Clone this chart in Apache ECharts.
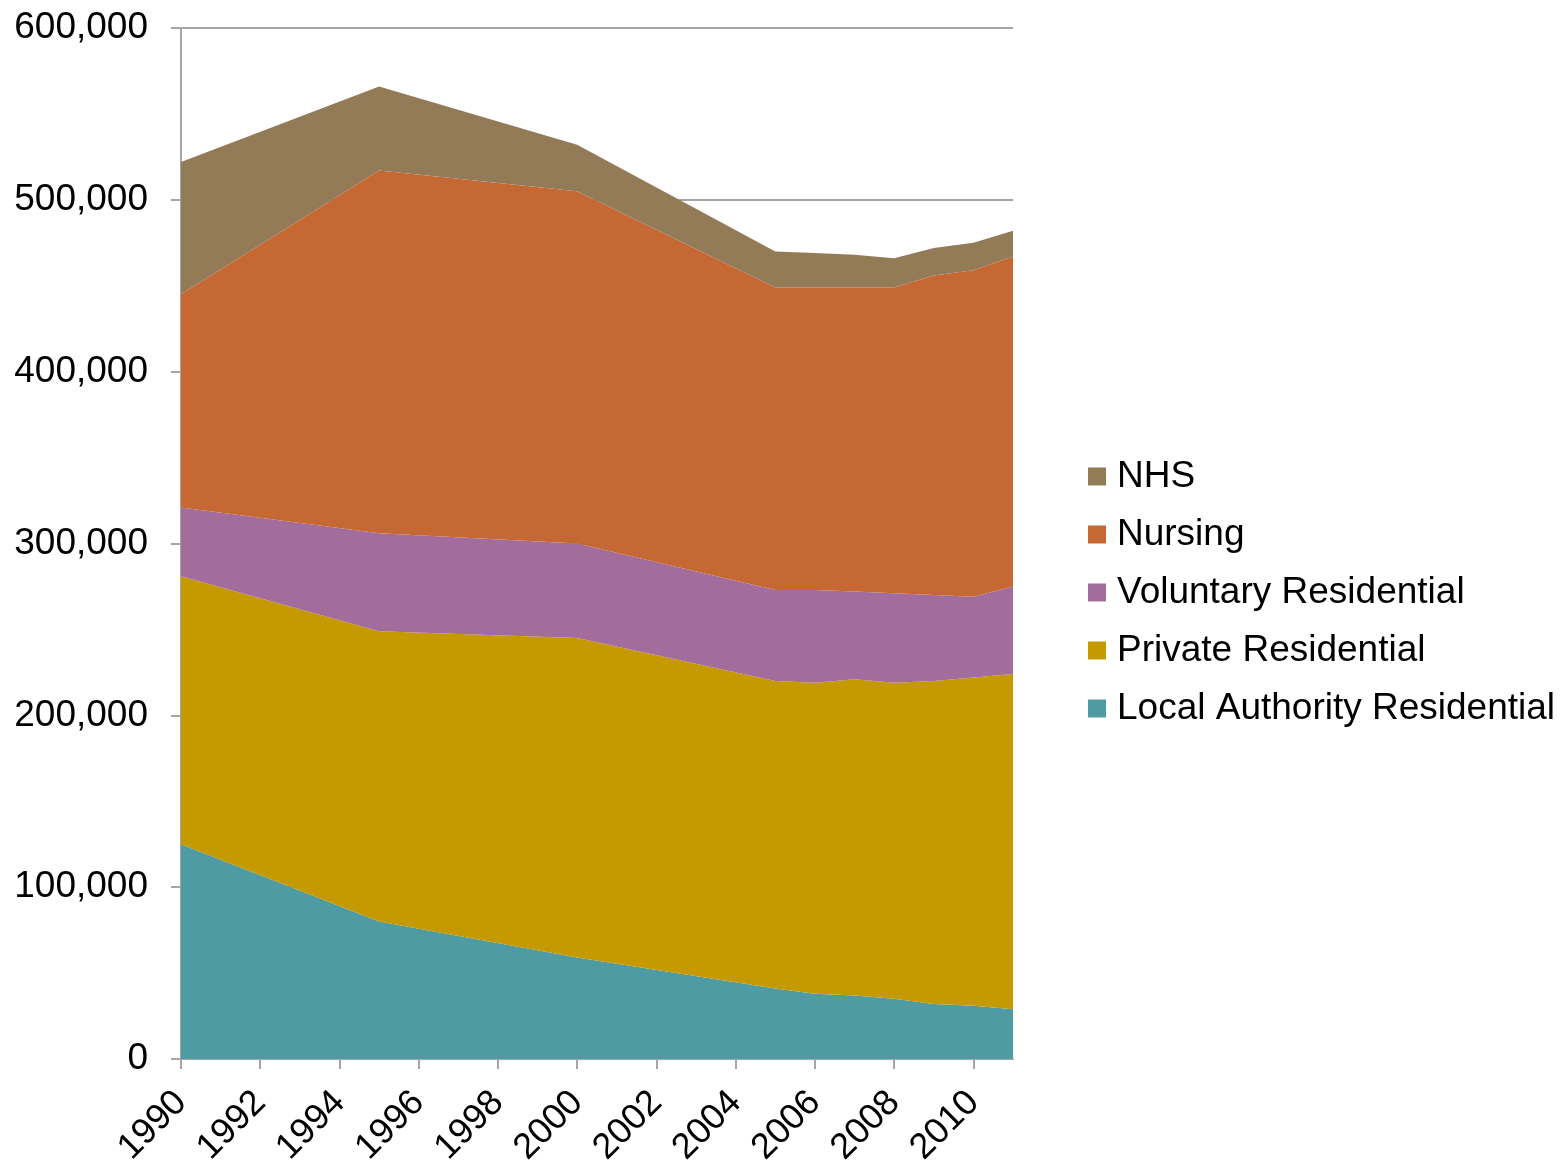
<!DOCTYPE html>
<html>
<head>
<meta charset="utf-8">
<title>Care home places by sector, 1990–2011</title>
<script src="https://cdn.jsdelivr.net/npm/echarts@6/dist/echarts.min.js"></script>
<style>
  html, body { margin: 0; padding: 0; background: #ffffff; }
  #chart { width: 1566px; height: 1174px; }
</style>
</head>
<body>
<div id="chart"></div>
<script>
// Years with recorded figures
const years = [1990, 1995, 2000, 2005, 2006, 2007, 2008, 2009, 2010, 2011];

// Places by sector (stacked from the bottom up)
const localAuthorityResidential = [125000, 80000, 59000, 41000, 38000, 37000, 35000, 32000, 31000, 29000];
const privateResidential        = [156000, 169000, 186000, 179000, 181000, 184000, 184000, 188000, 191000, 195000];
const voluntaryResidential      = [40000, 57000, 55000, 53000, 54000, 51000, 52000, 50000, 47000, 51000];
const nursing                   = [124000, 211000, 205000, 176000, 176000, 177000, 178000, 186000, 190000, 192000];
const nhs                       = [77000, 49000, 27000, 21000, 20000, 19000, 17000, 16000, 16000, 15000];

// Axis tick labels
const xTickYears = [1990, 1992, 1994, 1996, 1998, 2000, 2002, 2004, 2006, 2008, 2010];

const FONT = '"Liberation Sans", Arial, Helvetica, sans-serif';
const AXIS_GREY = '#a6a6a6';

// Series are placed on a (hidden) time axis, 1 January of each year, so that
// only the places dimension is stacked; a value axis over the same span
// carries the visible year ticks and labels.
const yearStart = y => Date.UTC(y, 0, 1);

const seriesDefs = [
  { name: 'Local Authority Residential', values: localAuthorityResidential, color: '#4f9ba4' },
  { name: 'Private Residential',         values: privateResidential,        color: '#c49a00' },
  { name: 'Voluntary Residential',       values: voluntaryResidential,      color: '#a26c9d' },
  { name: 'Nursing',                     values: nursing,                   color: '#c66834' },
  { name: 'NHS',                         values: nhs,                       color: '#947b58' }
];

const chart = echarts.init(document.getElementById('chart'), null, { renderer: 'canvas' });

chart.setOption({
  animation: false,
  backgroundColor: '#ffffff',
  grid: { left: 181, right: 553, top: 28, bottom: 115, containLabel: false },
  legend: {
    orient: 'vertical',
    left: 1088,
    top: 458,
    padding: 0,
    itemWidth: 18,
    itemHeight: 18,
    itemGap: 21,
    icon: 'rect',
    data: ['NHS', 'Nursing', 'Voluntary Residential', 'Private Residential', 'Local Authority Residential'],
    textStyle: { fontFamily: FONT, fontSize: 37, color: '#000000', padding: [0, 0, 0, 6], lineHeight: 36 }
  },
  xAxis: [
    {
      type: 'time',
      show: false,
      min: yearStart(1990),
      max: yearStart(2011)
    },
    {
      type: 'value',
      position: 'bottom',
      min: 1990,
      max: 2011,
      interval: 2,
      splitLine: { show: false },
      axisLine: { show: true, onZero: false, lineStyle: { color: AXIS_GREY, width: 2 } },
      axisTick: {
        show: true, length: 10, inside: false,
        customValues: xTickYears,
        lineStyle: { color: AXIS_GREY, width: 2 }
      },
      axisLabel: {
        customValues: xTickYears,
        rotate: 45,
        margin: 38,
        fontFamily: FONT,
        fontSize: 36,
        color: '#000000',
        formatter: v => String(v)
      }
    }
  ],
  yAxis: {
    type: 'value',
    min: 0,
    max: 600000,
    interval: 100000,
    axisLine: { show: true, lineStyle: { color: AXIS_GREY, width: 2 } },
    axisTick: { show: true, length: 10, lineStyle: { color: AXIS_GREY, width: 2 } },
    splitLine: { show: true, lineStyle: { color: AXIS_GREY, width: 2 } },
    axisLabel: {
      margin: 33,
      fontFamily: FONT,
      fontSize: 37,
      color: '#000000',
      formatter: v => v.toLocaleString('en-GB')
    }
  },
  series: seriesDefs.map(d => ({
    name: d.name,
    type: 'line',
    xAxisIndex: 0,
    stack: 'places',
    showSymbol: false,
    symbol: 'none',
    color: d.color,
    lineStyle: { width: 0 },
    areaStyle: { color: d.color, opacity: 1 },
    emphasis: { disabled: true },
    data: years.map((y, i) => [yearStart(y), d.values[i]])
  }))
});
</script>
</body>
</html>
